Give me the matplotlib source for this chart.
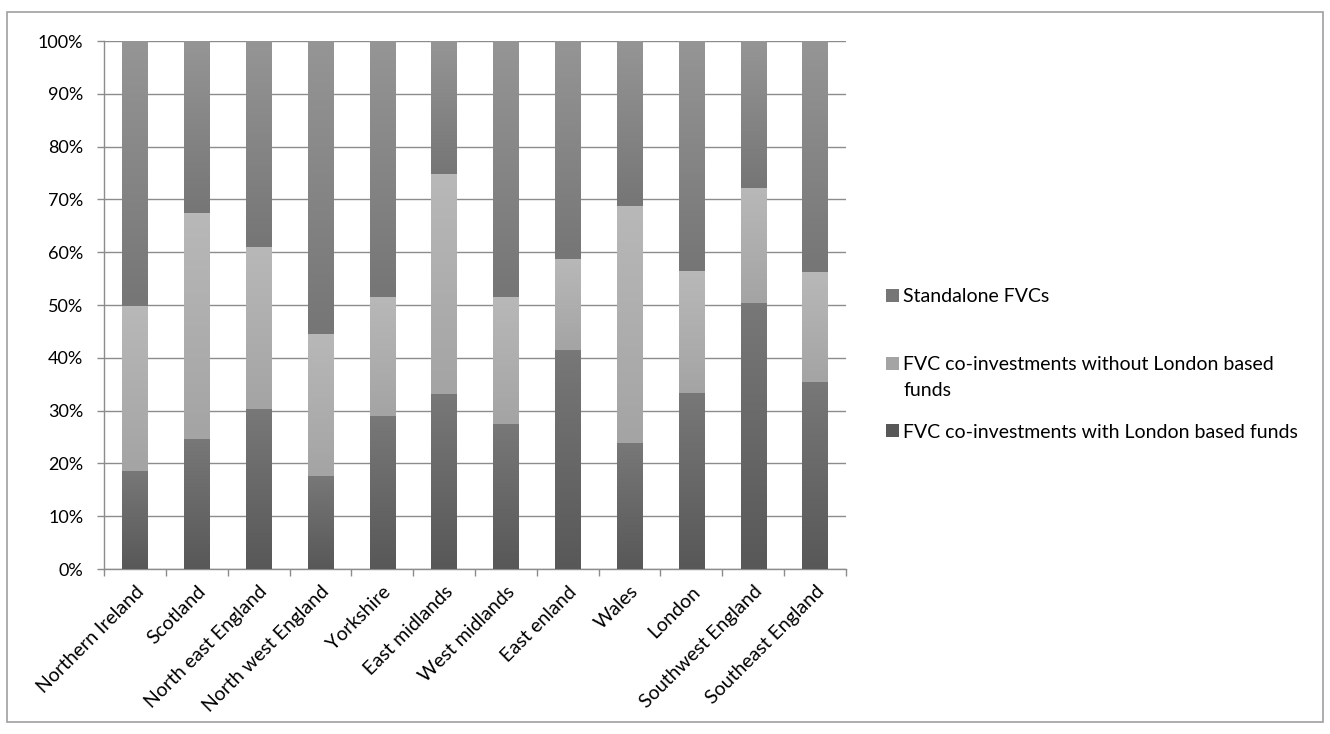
import matplotlib
matplotlib.use("Agg")
import matplotlib.pyplot as plt
import numpy as np
from matplotlib.patches import Rectangle
from matplotlib.ticker import PercentFormatter, FixedLocator
from matplotlib.colors import LinearSegmentedColormap
from matplotlib.transforms import ScaledTranslation

plt.rcParams['font.family'] = ['Lato', 'DejaVu Sans']

regions = ["Northern Ireland", "Scotland", "North east England", "North west England",
           "Yorkshire", "East midlands", "West midlands", "East enland", "Wales",
           "London", "Southwest England", "Southeast England"]
with_london = [18.6, 24.7, 30.3, 17.7, 28.9, 33.2, 27.5, 41.5, 23.9, 33.4, 50.4, 35.5]
without_london = [31.2, 42.8, 30.6, 26.9, 22.7, 41.7, 24.1, 17.2, 44.9, 23.1, 21.8, 20.8]
standalone = [100 - a - b for a, b in zip(with_london, without_london)]

series_names = ["FVC co-investments with London based funds",
                "FVC co-investments without London based funds",
                "Standalone FVCs"]
legend_labels = {"Standalone FVCs": "Standalone FVCs",
                 "FVC co-investments without London based funds":
                     "FVC co-investments without London based\nfunds",
                 "FVC co-investments with London based funds":
                     "FVC co-investments with London based funds"}
# (top colour, bottom colour) for gradient fill of each series
grad = [("#787878", "#585858"), ("#b8b8b8", "#a4a4a4"), ("#959595", "#767676")]

W, H = 1330, 734
fig = plt.figure(figsize=(W / 100, H / 100), dpi=100)
# outer chart border
fig.add_artist(Rectangle((7 / W, 12 / H), 1316 / W, 710 / H, transform=fig.transFigure,
                         fill=False, edgecolor="#a0a0a0", linewidth=1.2))
ax = fig.add_axes([104 / W, 1 - 569 / H, (846 - 104) / W, (569 - 41) / H])

x = np.arange(len(regions))
width = 0.41
bottoms = np.zeros(len(regions))
data = [with_london, without_london, standalone]
for vals, (ctop, cbot) in zip(data, grad):
    vals = np.array(vals)
    bars = ax.bar(x, vals, width, bottom=bottoms, color=cbot, edgecolor="none", zorder=3)
    cmap = LinearSegmentedColormap.from_list("g", [cbot, ctop])
    for b in bars:
        bx, by = b.get_x(), b.get_y()
        bw, bh = b.get_width(), b.get_height()
        im = ax.imshow(np.linspace(0, 1, 64).reshape(-1, 1), cmap=cmap, origin="lower",
                       extent=[bx, bx + bw, by, by + bh], aspect="auto", zorder=3.5)
        im.set_clip_path(b)
    bottoms = bottoms + vals

ax.set_xlim(-0.5, len(regions) - 0.5)
ax.set_ylim(0, 100)
ax.set_yticks(np.arange(0, 101, 10))
ax.yaxis.set_major_formatter(PercentFormatter(decimals=0))
ax.grid(axis="y", color="#8c8c8c", linewidth=1.0, zorder=0)
ax.set_axisbelow(True)
ax.set_xticks(x)
ax.set_xticklabels(regions, rotation=45, ha="right", rotation_mode="anchor", fontsize=14)
shift = ScaledTranslation(-5 / 100, 0, fig.dpi_scale_trans)
for lbl in ax.get_xticklabels():
    lbl.set_transform(lbl.get_transform() + shift)
ax.xaxis.set_minor_locator(FixedLocator(np.arange(-0.5, len(regions), 1)))
ax.tick_params(axis="x", which="major", length=0, pad=10)
ax.tick_params(axis="x", which="minor", length=5, color="#8c8c8c", width=1)
ax.tick_params(axis="y", length=5, color="#8c8c8c", width=1, labelsize=13, pad=10)
for s in ["top", "right"]:
    ax.spines[s].set_visible(False)
for s in ["left", "bottom"]:
    ax.spines[s].set_color("#8c8c8c")
    ax.spines[s].set_linewidth(1.0)

# legend (Excel style: reversed order, marker aligned with first text line)
leg_order = [2, 1, 0]
leg_y = [295.5, 363.5, 430.5]
for i, yc in zip(leg_order, leg_y):
    ctop, cbot = grad[i]
    fig.add_artist(Rectangle((886 / W, 1 - (yc + 6.5) / H), 12.5 / W, 13 / H,
                             transform=fig.transFigure, facecolor=cbot, edgecolor="none"))
    fig.text(903 / W, 1 - (yc - 7) / H, legend_labels[series_names[i]], fontsize=14,
             ha="left", va="top", linespacing=1.6)

fig.savefig("out.png", dpi=100)
